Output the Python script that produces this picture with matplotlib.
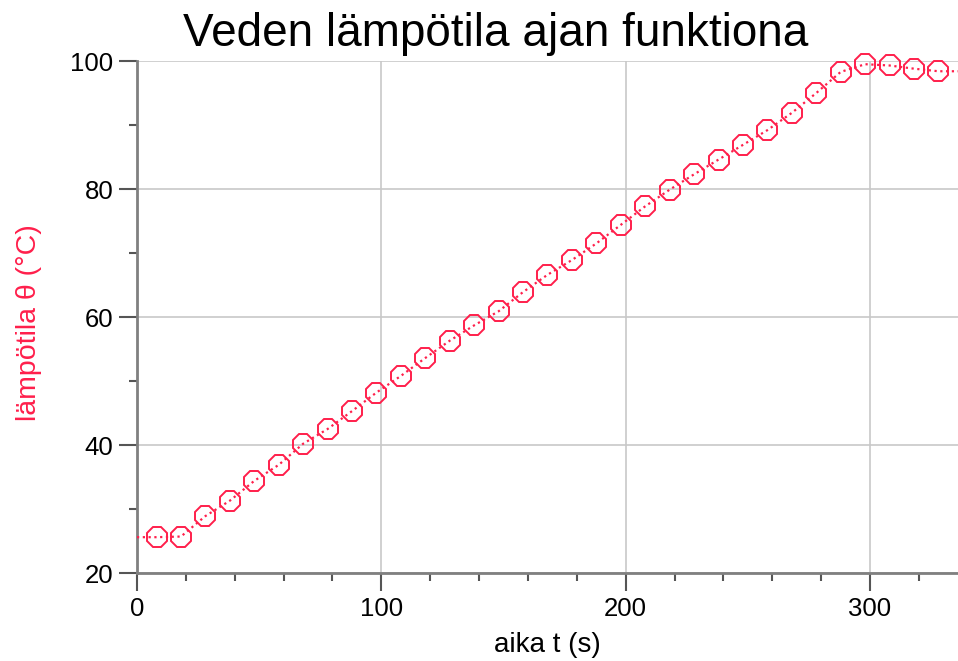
import matplotlib
matplotlib.use("Agg")
import matplotlib.pyplot as plt
from matplotlib.ticker import MultipleLocator

# Data
time_s = [8, 18, 28, 38, 48, 58, 68, 78, 88, 98, 108, 118, 128, 138, 148, 158,
          168, 178, 188, 198, 208, 218, 228, 238, 248, 258, 268, 278, 288, 298,
          308, 318, 328]
temp_c = [25.6, 25.7, 28.9, 31.3, 34.4, 36.9, 40.2, 42.5, 45.3, 48.2, 50.8, 53.6,
          56.3, 58.7, 60.9, 63.9, 66.6, 68.9, 71.5, 74.4, 77.3, 79.9, 82.3, 84.6,
          86.9, 89.2, 91.9, 95.0, 98.3, 99.5, 99.3, 98.8, 98.4]

title = "Veden lämpötila ajan funktiona"
xlabel = "aika t (s)"
ylabel = "lämpötila θ (°C)"
x_limits = (0, 336)
y_limits = (20, 100)

RED = "#ff1f4b"
plt.rcParams['font.family'] = ['Liberation Sans', 'DejaVu Sans']

fig = plt.figure(figsize=(9.58, 6.61), dpi=100)
ax = fig.add_axes([0.143, 0.1331, 0.857, 0.7746])

# dotted connecting line, extended to the axis edges at the end values
line_x = [x_limits[0]] + time_s + [x_limits[1]]
line_y = [temp_c[0]] + temp_c + [temp_c[-1]]
ax.plot(line_x, line_y, linestyle=(0, (1, 1.6)), color=RED, lw=1.6, zorder=3)
ax.plot(time_s, temp_c, linestyle='none', marker='8', markersize=15,
        markerfacecolor='none', markeredgecolor=RED, markeredgewidth=1.4, zorder=4,
        clip_on=False)

ax.set_xlim(*x_limits)
ax.set_ylim(*y_limits)
ax.xaxis.set_major_locator(MultipleLocator(100))
ax.xaxis.set_minor_locator(MultipleLocator(20))
ax.yaxis.set_major_locator(MultipleLocator(20))
ax.yaxis.set_minor_locator(MultipleLocator(10))

ax.grid(True, which='major', color='#c8c8c8', lw=1.2, zorder=0)
ax.set_axisbelow(True)

for s in ['top', 'right']:
    ax.spines[s].set_visible(False)
for s in ['left', 'bottom']:
    ax.spines[s].set_color('#808080')
    ax.spines[s].set_linewidth(2)

ax.tick_params(which='major', length=13, width=1.5, color='#555555', labelsize=18.5, pad=4)
ax.tick_params(which='minor', length=6, width=1.5, color='#555555')

fig.text(496 / 958, 1 - 34 / 661, title, fontsize=33, ha='center', va='center')
ax.set_xlabel(xlabel, fontsize=20, labelpad=8)
ax.set_ylabel(ylabel, fontsize=20.5, color=RED)
ax.yaxis.set_label_coords(-0.116, 0.49)

fig.savefig("out.png", dpi=100)
